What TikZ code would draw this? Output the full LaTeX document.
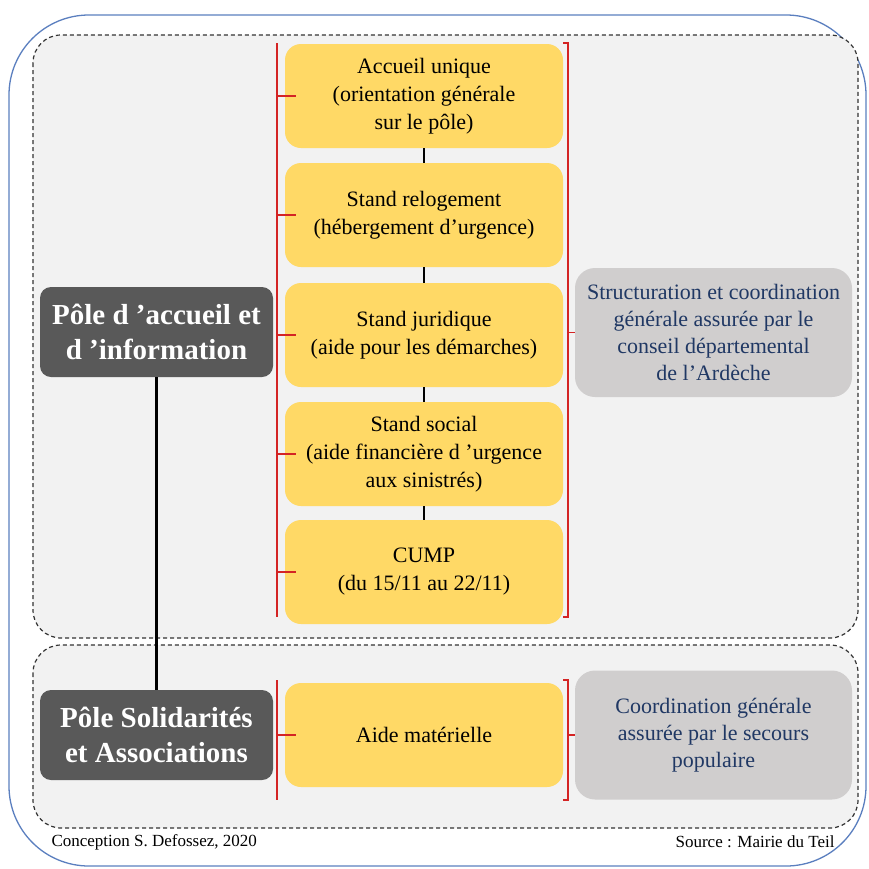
\documentclass[tikz,border=0pt]{standalone}
\usepackage{fontspec}
\setmainfont{Liberation Serif}
\definecolor{mOuterBlue}{HTML}{5B7FBF}
\definecolor{mPanel}{HTML}{F2F2F2}
\definecolor{mGold}{HTML}{FFD966}
\definecolor{mDarkGrey}{HTML}{595959}
\definecolor{mSoftGrey}{HTML}{D0CECE}
\definecolor{mNavy}{HTML}{203864}
\definecolor{mBracket}{HTML}{D42424}
\usepackage{tikz}
\usetikzlibrary{positioning,calc}

\tikzset{
  panel/.style={draw=black!80, dash pattern=on 4pt off 3pt, fill=mPanel, rounded corners=28pt, line width=1.2pt},
  stand/.style={fill=mGold, rounded corners=16pt, minimum width=278pt, minimum height=104pt, inner sep=3pt, align=center, font=\fontsize{22}{28}\selectfont},
  pole/.style={fill=mDarkGrey, rounded corners=11pt, text=white, minimum width=233pt, minimum height=90pt, inner sep=3pt, align=center, font=\fontsize{29}{35}\selectfont\bfseries},
  coordbox/.style={fill=mSoftGrey, rounded corners=20pt, text=mNavy, minimum width=277pt, minimum height=129pt, inner sep=3pt, align=center, font=\fontsize{22}{27}\selectfont},
  bracket/.style={mBracket, line width=1.5pt},
  link/.style={black, line width=2.5pt},
}

\begin{document}
\begin{tikzpicture}[x=1pt, y=-1pt]
\useasboundingbox (0,0) rectangle (869,868);
% frame and the two dashed panels
\draw[mOuterBlue, line width=1.3pt, rounded corners=80pt] (9,15) rectangle (866,866);
\draw[panel] (33,35) rectangle (858,638);
\draw[panel] (33,645) rectangle (858,828);
% poles
\node[pole] (poleA) at (156.5,332) {P\^ole d ’accueil et\\d ’information};
\node[pole] (poleB) at (156.5,735) {P\^ole Solidarit\'es\\et Associations};
\draw[link] (poleA) -- (poleB);
% stands
\node[stand] (accueil) at (424,96) {Accueil unique\\(orientation g\'en\'erale\\sur le p\^ole)};
\node[stand] (reloge) at (424,215) {Stand relogement\\(h\'ebergement d’urgence)};
\node[stand] (juri) at (424,335) {Stand juridique\\(aide pour les d\'emarches)};
\node[stand] (social) at (424,454) {Stand social\\(aide financi\`ere d ’urgence\\aux sinistr\'es)};
\node[stand] (cump) at (424,572) {CUMP\\(du 15/11 au 22/11)};
\node[stand] (aide) at (424,735) {Aide mat\'erielle};
\draw[link] (accueil) -- (reloge);
\draw[link] (reloge) -- (juri);
\draw[link] (juri) -- (social);
\draw[link] (social) -- (cump);
% coordination
\node[coordbox] (coordA) at (713.5,332.5) {Structuration et coordination\\g\'en\'erale assur\'ee par le\\conseil d\'epartemental\\de  l’Ard\`eche};
\node[coordbox] (coordB) at (713.5,735) {Coordination  g\'en\'erale\\assur\'ee par le secours\\populaire};
% brackets, top group
\coordinate (brL) at (277,0);
\coordinate (brR) at (568,0);
\draw[bracket] (277,43) -- (277,617);
\draw[bracket] (563,43) -- (568,43) -- (568,617) -- (563,617);
\foreach \s in {accueil,reloge,juri,social,cump}
  \draw[bracket] (brL |- \s.west) -- ([xshift=11pt]\s.west);
\draw[bracket] (brR |- coordA.west) -- (coordA.west);
% brackets, bottom group
\draw[bracket] (277,680) -- (277,800);
\draw[bracket] (563,680) -- (568,680) -- (568,800) -- (563,800);
\draw[bracket] (brL |- aide.west) -- ([xshift=11pt]aide.west);
\draw[bracket] (brR |- coordB.west) -- (coordB.west);
% footer
\node[anchor=west, font=\fontsize{17}{20}\selectfont] (credit) at (48,842) {Conception S. Defossez, 2020};
\node[anchor=east, font=\fontsize{17}{20}\selectfont] (source) at (838,842) {Source : Mairie du Teil};
\end{tikzpicture}
\end{document}
